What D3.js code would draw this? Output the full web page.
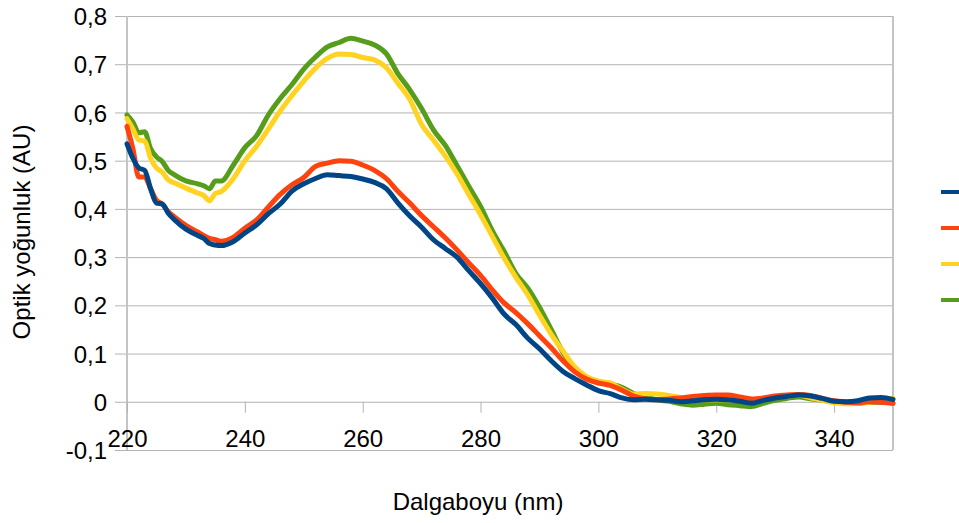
<!DOCTYPE html>
<html>
<head>
<meta charset="utf-8">
<script src="https://cdn.jsdelivr.net/npm/d3@7"></script>
<style>
  html, body { margin: 0; padding: 0; background: #fff; }
  svg { display: block; font-family: "Liberation Sans", Arial, sans-serif; }
</style>
</head>
<body>
<svg id="chart" width="959" height="523"></svg>
<script>
// Absorbance spectra, wavelength in nm
const wavelengths = [220,221,222,223,224,225,226,227,228,230,232,233,234,235,236,238,240,242,244,246,248,250,252,254,256,258,260,262,264,266,268,270,272,274,276,278,280,282,284,286,288,290,292,294,296,298,300,302,304,306,308,310,312,314,316,318,320,322,324,326,328,330,332,334,336,338,340,342,344,346,348,350];

const seriesBlue = [0.535,0.505,0.485,0.480,0.442,0.412,0.410,0.391,0.378,0.358,0.345,0.339,0.328,0.325,0.324,0.332,0.350,0.367,0.390,0.410,0.437,0.452,0.463,0.471,0.469,0.467,0.462,0.455,0.442,0.412,0.385,0.362,0.336,0.318,0.300,0.272,0.245,0.215,0.182,0.160,0.132,0.110,0.085,0.063,0.048,0.035,0.023,0.017,0.008,0.004,0.005,0.004,0.003,0.000,0.002,0.004,0.005,0.004,0.001,-0.003,0.003,0.008,0.011,0.014,0.012,0.007,0.001,0.000,0.002,0.008,0.009,0.005];

const seriesRed = [0.571,0.525,0.466,0.466,0.442,0.418,0.410,0.394,0.384,0.366,0.352,0.345,0.339,0.336,0.333,0.341,0.360,0.377,0.404,0.430,0.450,0.465,0.488,0.495,0.500,0.499,0.491,0.480,0.463,0.436,0.412,0.386,0.363,0.340,0.315,0.288,0.262,0.232,0.205,0.185,0.162,0.137,0.112,0.085,0.062,0.047,0.039,0.034,0.024,0.012,0.006,0.004,0.006,0.008,0.011,0.013,0.014,0.014,0.010,0.006,0.008,0.012,0.014,0.015,0.013,0.007,0.002,-0.001,-0.002,0.000,-0.001,-0.003];

const seriesYellow = [0.587,0.566,0.543,0.541,0.505,0.485,0.476,0.460,0.454,0.443,0.433,0.428,0.417,0.432,0.436,0.462,0.500,0.530,0.566,0.603,0.635,0.665,0.692,0.712,0.721,0.720,0.714,0.709,0.693,0.660,0.627,0.575,0.543,0.510,0.473,0.430,0.388,0.343,0.298,0.258,0.222,0.180,0.140,0.105,0.072,0.052,0.043,0.039,0.026,0.016,0.017,0.016,0.013,0.009,0.006,0.004,0.004,0.004,0.004,0.004,0.006,0.009,0.012,0.014,0.008,0.003,-0.002,-0.004,-0.003,-0.001,0.003,0.007];

const seriesGreen = [0.595,0.580,0.558,0.560,0.525,0.508,0.498,0.480,0.471,0.458,0.452,0.448,0.442,0.458,0.458,0.490,0.527,0.552,0.595,0.629,0.658,0.690,0.715,0.736,0.745,0.754,0.748,0.740,0.722,0.680,0.647,0.608,0.564,0.532,0.490,0.447,0.405,0.355,0.312,0.266,0.236,0.196,0.150,0.102,0.068,0.050,0.042,0.037,0.030,0.017,0.010,0.004,0.001,-0.004,-0.007,-0.005,-0.003,-0.006,-0.008,-0.010,-0.003,0.003,0.007,0.010,0.006,0.003,0.000,-0.002,-0.003,-0.001,-0.001,-0.003];

const seriesColors = ["#004586", "#ff420e", "#ffd320", "#579d1c"];

const xTickValues = [220, 240, 260, 280, 300, 320, 340];
const yTickValues = [-0.1, 0, 0.1, 0.2, 0.3, 0.4, 0.5, 0.6, 0.7, 0.8];
const yTickLabels = ["-0,1", "0", "0,1", "0,2", "0,3", "0,4", "0,5", "0,6", "0,7", "0,8"];

const xTitle = "Dalgaboyu (nm)";
const yTitle = "Optik yoğunluk (AU)";

const svg = d3.select("#chart");
const plot = { left: 127, right: 893, top: 16, bottom: 450 };

const x = d3.scaleLinear().domain([220, 350]).range([plot.left, plot.right]);
const y = d3.scaleLinear().domain([-0.1, 0.8]).range([plot.bottom, plot.top]);

// Horizontal gridlines with their outward tick stubs and labels
const yAxis = d3.axisLeft(y)
  .tickValues(yTickValues)
  .tickFormat((d, i) => yTickLabels[i])
  .tickSize(plot.right - plot.left + 12)
  .tickPadding(8);

const gy = svg.append("g")
  .attr("transform", `translate(${plot.right},0)`)
  .call(yAxis);
gy.select(".domain").remove();
gy.selectAll(".tick line").attr("stroke", "#b3b3b3").attr("stroke-width", 1);
gy.selectAll(".tick text")
  .attr("fill", "#000")
  .style("font-size", "24px")
  .attr("dy", "0.36em");

// Frame sides
svg.append("line")
  .attr("x1", plot.left).attr("x2", plot.left)
  .attr("y1", plot.top).attr("y2", plot.bottom)
  .attr("stroke", "#c4c4c4").attr("stroke-width", 2);
svg.append("line")
  .attr("x1", plot.right).attr("x2", plot.right)
  .attr("y1", plot.top).attr("y2", plot.bottom)
  .attr("stroke", "#c4c4c4").attr("stroke-width", 2);

// Wavelength axis sits on the zero line
const xAxis = d3.axisBottom(x)
  .tickValues(xTickValues)
  .tickSize(11)
  .tickPadding(17);

const gx = svg.append("g")
  .attr("transform", `translate(0,${y(0)})`)
  .call(xAxis);
gx.select(".domain").remove();
gx.selectAll(".tick line").attr("stroke", "#b3b3b3").attr("stroke-width", 1);
gx.selectAll(".tick text")
  .attr("fill", "#000")
  .style("font-size", "24px");

// Spectra, last series drawn first so blue ends on top
const allSeries = [seriesBlue, seriesRed, seriesYellow, seriesGreen];
const line = d3.line()
  .x((d, i) => x(wavelengths[i]))
  .y(d => y(d))
  .curve(d3.curveMonotoneX);

svg.append("g")
  .selectAll("path")
  .data(allSeries.map((s, i) => ({ values: s, color: seriesColors[i] })).reverse())
  .join("path")
  .attr("d", d => line(d.values))
  .attr("fill", "none")
  .attr("stroke", d => d.color)
  .attr("stroke-width", 5)
  .attr("stroke-linejoin", "round")
  .attr("stroke-linecap", "round");

// Legend keys
const legendY = d3.scalePoint().domain(d3.range(allSeries.length)).range([192, 300]);
svg.append("g")
  .selectAll("line")
  .data(seriesColors)
  .join("line")
  .attr("x1", 941).attr("x2", 970)
  .attr("y1", (d, i) => legendY(i)).attr("y2", (d, i) => legendY(i))
  .attr("stroke", d => d)
  .attr("stroke-width", 4);

// Axis titles
svg.append("text")
  .attr("x", 478)
  .attr("y", 510)
  .attr("text-anchor", "middle")
  .style("font-size", "24px")
  .text(xTitle);

svg.append("text")
  .attr("transform", `translate(30,232) rotate(-90)`)
  .attr("text-anchor", "middle")
  .style("font-size", "24px")
  .text(yTitle);
</script>
</body>
</html>
